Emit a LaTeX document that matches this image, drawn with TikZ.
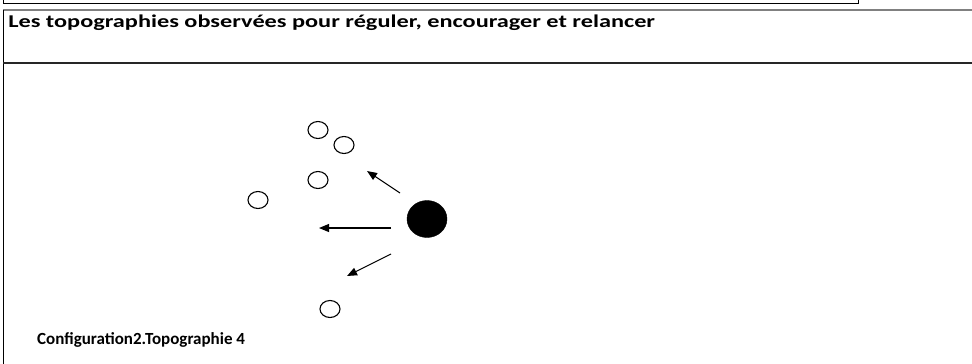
\documentclass[tikz,border=0pt]{standalone}
\usepackage{fontspec}
\setmainfont{Carlito}
\usetikzlibrary{arrows.meta,shapes.geometric}
\tikzset{
  pawn/.style={ellipse,draw=black,line width=1.1bp,minimum width=20bp,minimum height=17bp,inner sep=0pt},
  ballpawn/.style={ellipse,fill=black,draw=black,minimum width=40bp,minimum height=37bp,inner sep=0pt},
  movearrow/.style={draw=black,line width=1.1bp,-{Triangle[length=10bp,width=8bp]}},
  rule/.style={draw=black,line width=1bp},
  titletext/.style={font=\bfseries\fontsize{18bp}{21bp}\selectfont,anchor=base west,inner sep=0pt,xscale=1.35},
  captiontext/.style={font=\bfseries\fontsize{17bp}{20bp}\selectfont,anchor=base west,inner sep=0pt}
}
\begin{document}
\begin{tikzpicture}[x=1bp,y=-1bp]
\useasboundingbox (0,0) rectangle (972,363);
% upper box (bottom edge only visible)
\draw[rule] (3,-5) -- (3,3) -- (858,3) -- (858,-5);
% table
\draw[draw=gray,line width=1.6bp] (3,10) -- (975,10);
\draw[rule] (3,10) -- (3,366);
\draw[draw=black!85,line width=1.8bp] (3,63) -- (975,63);
\node[titletext] (title) at (8,27) {Les topographies observées pour réguler, encourager et relancer};
% players
\node[pawn] (p1) at (318,130) {};
\node[pawn] (p2) at (344,145) {};
\node[pawn] (p3) at (318,180) {};
\node[pawn] (p4) at (258,200) {};
\node[pawn] (p5) at (330,309) {};
\node[ballpawn] (ball) at (427,219) {};
% arrows
\coordinate (a1s) at (400,193);
\coordinate (a1e) at (367,171);
\coordinate (a2s) at (391,228);
\coordinate (a2e) at (319,228);
\coordinate (a3s) at (391,254);
\coordinate (a3e) at (347,276);
\draw[movearrow] (a1s) -- (a1e);
\draw[movearrow] (a2s) -- (a2e);
\draw[movearrow] (a3s) -- (a3e);
\node[captiontext] (caption) at (37,344) {Configuration2.Topographie 4};
\end{tikzpicture}
\end{document}
